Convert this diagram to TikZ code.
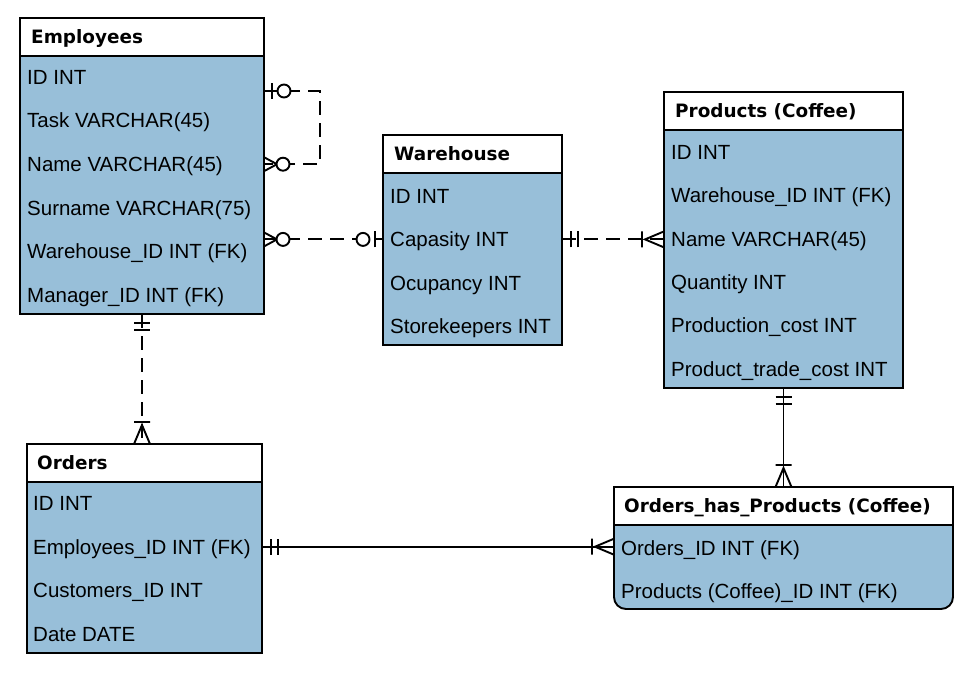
\documentclass[tikz,border=0pt]{standalone}
\usepackage{fontspec}
\setmainfont{Liberation Sans}
\newfontfamily\hdrfont{DejaVu Sans}
\usetikzlibrary{decorations.markings}
\definecolor{tblblue}{RGB}{152,191,217}

% relationship ends, drawn along the connector (x points away from the table)
\newcommand\erOneOne{\draw[solid] (9pt,-8pt) -- (9pt,8pt) (16pt,-8pt) -- (16pt,8pt);}
\newcommand\erOneMany{\draw[solid] (22pt,-8pt) -- (22pt,8pt) (0pt,-8pt) -- (19pt,0pt) -- (0pt,8pt);}
\newcommand\erZeroOne{\draw[solid] (8pt,-8pt) -- (8pt,8pt); \draw[solid,fill=white] (20pt,0pt) circle (6.5pt);}
\newcommand\erZeroMany{\draw[solid] (0pt,-7pt) -- (13pt,0pt) -- (0pt,7pt); \draw[solid,fill=white] (19pt,0pt) circle (6.5pt);}

\tikzset{
  hdr/.style={draw, fill=white, line width=1.9pt, anchor=north west, inner sep=0pt, outer sep=0pt, minimum height=38pt},
  ttl/.style={anchor=west, inner sep=0pt, text height=13.4pt, text depth=0pt, font=\hdrfont\bfseries\fontsize{18.4}{22}\selectfont},
  tbl/.style={draw, fill=tblblue, line width=1.9pt, anchor=north west, inner sep=0pt, outer sep=0pt},
  row/.style={anchor=west, inner sep=0pt, text height=14.7pt, text depth=0pt, font=\fontsize{20.5}{24}\selectfont},
  rel/.style={line width=1.9pt},
  dsh/.style={dash pattern=on 14pt off 8pt},
  erfrom/.style={postaction={decorate,decoration={markings,mark=at position 0 with {#1}}}},
  erto/.style={postaction={decorate,decoration={markings,mark=at position 1 with {\begin{scope}[xscale=-1]#1\end{scope}}}}},
}

\begin{document}
\begin{tikzpicture}[x=1pt,y=-1pt]
\path[use as bounding box,fill=white] (0,0) rectangle (974,691);

% Employees
\node[hdr,minimum width=244pt] (emp) at (20,18) {};
\node[ttl] (emp-t) at ([xshift=11pt]emp.west) {Employees};
\node[tbl,minimum width=244pt,minimum height=258pt] (emp-b) at (emp.south west) {};
\foreach \txt [count=\i] in {ID INT,Task VARCHAR(45),Name VARCHAR(45),Surname VARCHAR(75),Warehouse\_ID INT (FK),Manager\_ID INT (FK)}
  \node[row] (emp\i) at (27,{77+43.6*(\i-1)}) {\txt};

% Warehouse
\node[hdr,minimum width=179pt] (wh) at (383,135) {};
\node[ttl] (wh-t) at ([xshift=11pt]wh.west) {Warehouse};
\node[tbl,minimum width=179pt,minimum height=172pt] (wh-b) at (wh.south west) {};
\foreach \txt [count=\i] in {ID INT,Capasity INT,Ocupancy INT,Storekeepers INT}
  \node[row] (wh\i) at (390,{196+43.4*(\i-1)}) {\txt};

% Products (Coffee)
\node[hdr,minimum width=239pt] (prod) at (664,92) {};
\node[ttl] (prod-t) at ([xshift=11pt]prod.west) {Products (Coffee)};
\node[tbl,minimum width=239pt,minimum height=258pt] (prod-b) at (prod.south west) {};
\foreach \txt [count=\i] in {ID INT,Warehouse\_ID INT (FK),Name VARCHAR(45),Quantity INT,Production\_cost INT,Product\_trade\_cost INT}
  \node[row] (prod\i) at (671,{152+43.4*(\i-1)}) {\txt};

% Orders
\node[hdr,minimum width=235pt] (ord) at (27,444) {};
\node[ttl] (ord-t) at ([xshift=10pt]ord.west) {Orders};
\node[tbl,minimum width=235pt,minimum height=171pt] (ord-b) at (ord.south west) {};
\foreach \txt [count=\i] in {ID INT,Employees\_ID INT (FK),Customers\_ID INT,Date DATE}
  \node[row] (ord\i) at (33,{503+43.7*(\i-1)}) {\txt};

% Orders_has_Products (Coffee)
\node[tbl,rounded corners=12pt,anchor=south west,minimum width=339pt,minimum height=110pt] (ohp-b) at (614,609) {};
\node[hdr,minimum width=339pt] (ohp) at (614,487) {};
\node[ttl] (ohp-t) at ([xshift=10pt]ohp.west) {Orders\_has\_Products (Coffee)};
\foreach \txt [count=\i] in {Orders\_ID INT (FK),Products (Coffee)\_ID INT (FK)}
  \node[row] (ohp\i) at (621,{548+43*(\i-1)}) {\txt};

% relationships
\draw[rel,dsh,erfrom=\erZeroOne,erto=\erZeroMany] ([yshift=-35pt]emp-b.north east) -| ([xshift=56pt]emp-b.east |- emp3) -- (emp-b.east |- emp3);
\draw[rel,dsh,erfrom=\erZeroMany,erto=\erZeroOne] (emp-b.east |- wh2) -- (wh-b.west |- wh2);
\draw[rel,dsh,erfrom=\erOneOne,erto=\erOneMany] (wh-b.east |- wh2) -- (prod-b.west |- wh2);
\draw[rel,dsh,erfrom=\erOneOne,erto=\erOneMany] (emp-b.south) -- (emp-b.south |- ord.north);
\draw[rel,erfrom=\erOneOne,erto=\erOneMany] (prod-b.south) -- (prod-b.south |- ohp.north);
\draw[rel,erfrom=\erOneOne,erto=\erOneMany] (ord-b.east |- ord2) -- (ohp-b.west |- ord2);
\end{tikzpicture}
\end{document}
